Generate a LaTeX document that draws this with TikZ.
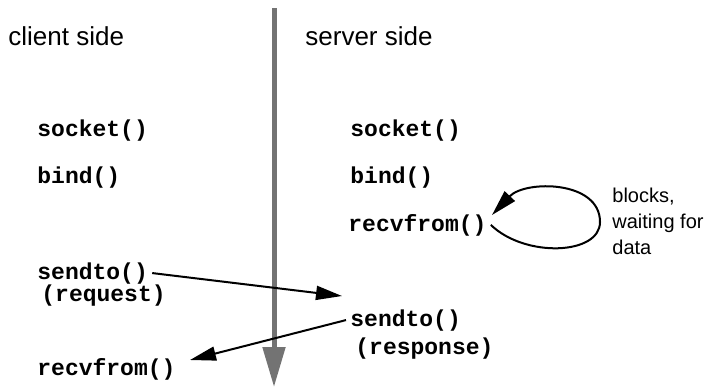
\documentclass[tikz,border=0pt]{standalone}
\usepackage{fontspec}
\setmainfont{Liberation Sans}
\setmonofont{Liberation Mono}
\usetikzlibrary{arrows.meta}

\tikzset{
  head/.style={anchor=base west, inner sep=0pt, font=\fontsize{13}{15}\selectfont},
  call/.style={anchor=base west, inner sep=2pt, font=\ttfamily\bfseries\fontsize{11.5}{14}\selectfont},
  note/.style={anchor=north west, inner sep=0pt, align=left, font=\fontsize{10}{13}\selectfont},
  msg/.style={line width=1pt, -{Triangle[length=13pt,width=7pt]}},
}

\begin{document}
\begin{tikzpicture}[x=0.5pt,y=-0.5pt]
    \useasboundingbox (0,0) rectangle (715,388);

    % border between client and server
    \draw[line width=2.5pt, black!55, -{Triangle[length=20pt,width=11pt]}] (274,8) -- (274,387);

    \node[head] (chead) at (8,45) {client side};
    \node[head] (shead) at (305,45) {server side};

    % client side calls
    \node[call] (csocket) at (33,136) {socket()};
    \node[call] (cbind) at (33,183) {bind()};
    \node[call] (csendto) at (33,279) {sendto()};
    \node[call] (creq) at (37,301) {(request)};
    \node[call] (crecv) at (33,375) {recvfrom()};

    % server side calls
    \node[call] (ssocket) at (346,136) {socket()};
    \node[call] (sbind) at (346,183) {bind()};
    \node[call] (srecv) at (344,231) {recvfrom()};
    \node[call] (ssendto) at (346,326) {sendto()};
    \node[call] (sresp) at (351,354) {(response)};

    \node[note] (wait) at (612,188) {blocks,\\waiting for\\data};

    \coordinate (reqend) at (342,296);
    \coordinate (respend) at (190,360);
    \coordinate (loopr) at (600,222);
    \coordinate (loopend) at (492,215);

    \draw[msg] (csendto.east) -- (reqend);
    \draw[msg] (ssendto.west) -- (respend);
    \draw[msg] (srecv.east) .. controls (525,258) and (600,255) .. (loopr)
        .. controls (600,180) and (525,180) .. (loopend);
\end{tikzpicture}
\end{document}
